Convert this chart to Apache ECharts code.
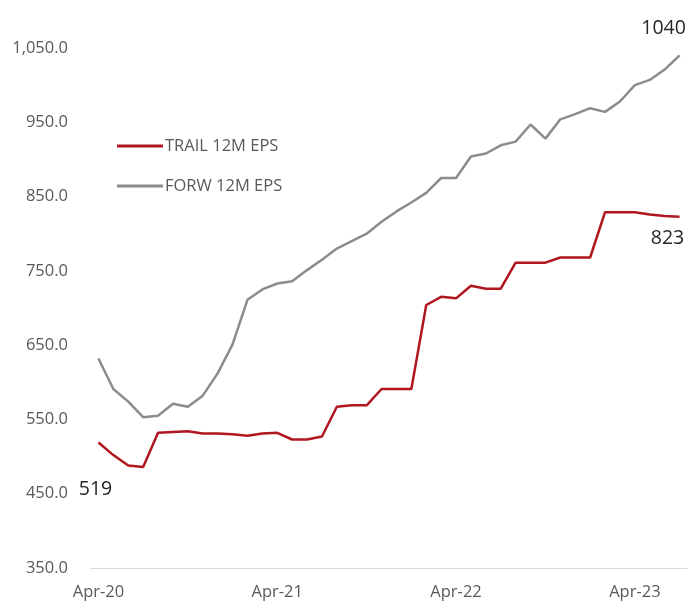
<!DOCTYPE html>
<html lang="en">
<head>
    <meta charset="UTF-8">
    <style>
        html, body { margin: 0; padding: 0; background: #ffffff; }
        #chart { width: 688px; height: 601px; }
    </style>
    <script src="https://cdn.jsdelivr.net/npm/echarts@6/dist/echarts.min.js"></script>
</head>
<body>
    <div id="chart"></div>
    <script>
        const months = ['Apr', 'May', 'Jun', 'Jul', 'Aug', 'Sep', 'Oct', 'Nov', 'Dec', 'Jan', 'Feb', 'Mar'];
        const categories = [];
        for (let i = 0; i < 40; i++) {
            const yr = 20 + Math.floor((i + 3) / 12);
            categories.push(months[i % 12] + '-' + yr);
        }

        const trailEps = [519, 502, 488, 486, 532, 533, 534, 531, 531, 530,
            528, 531, 532, 523, 523, 527, 567, 569, 569, 591,
            591, 591, 704, 715, 713, 730, 726, 726, 761, 761,
            761, 768, 768, 768, 829, 829, 829, 826, 824, 823];
        const forwEps = [632, 591, 574, 553, 555, 571, 567, 582, 612, 651,
            711, 725, 733, 736, 751, 765, 780, 790, 800, 816,
            830, 842, 855, 875, 875, 904, 908, 919, 924, 947,
            928, 954, 961, 969, 964, 978, 1000, 1007, 1021, 1040];

        const chart = echarts.init(document.getElementById('chart'));

        // only a few points carry a value label
        function withLabels(vals, marks) {
            return vals.map((v, i) => {
                if (marks[i]) {
                    return { value: v, label: Object.assign({ show: true, formatter: String(v) }, marks[i]) };
                }
                return v;
            });
        }

        const bigLabel = { fontSize: 19.5, color: '#262626', fontFamily: 'Open Sans' };

        chart.setOption({
            animation: false,
            textStyle: { fontFamily: 'Open Sans' },
            grid: { left: 91, right: 1, top: 48, bottom: 33 },
            legend: {
                orient: 'vertical',
                left: 117,
                top: 136,
                padding: 0,
                itemGap: 20,
                itemWidth: 46,
                itemHeight: 3,
                icon: 'rect',
                textStyle: { color: '#595959', fontSize: 16.5, lineHeight: 20, padding: [0, 0, 0, -3] },
                data: ['TRAIL 12M EPS', 'FORW 12M EPS']
            },
            xAxis: {
                type: 'category',
                data: categories,
                boundaryGap: true,
                axisLine: { lineStyle: { color: '#d9d9d9' } },
                axisTick: { interval: 11, length: 5, lineStyle: { color: '#d9d9d9' } },
                axisLabel: { interval: 11, color: '#595959', fontSize: 16.5, margin: 16 }
            },
            yAxis: {
                type: 'value',
                min: 350,
                max: 1050,
                interval: 100,
                splitLine: { show: false },
                axisLine: { show: false },
                axisTick: { show: false },
                axisLabel: {
                    color: '#595959',
                    fontSize: 16.5,
                    margin: 23,
                    formatter: v => v.toLocaleString('en-US', { minimumFractionDigits: 1, maximumFractionDigits: 1 })
                }
            },
            series: [
                {
                    name: 'TRAIL 12M EPS',
                    type: 'line',
                    showSymbol: true,
                    symbol: 'circle',
                    symbolSize: 0,
                    color: '#b0161e',
                    lineStyle: { width: 2.5 },
                    data: withLabels(trailEps, {
                        0: Object.assign({ position: 'bottom', distance: 37, offset: [-3, 0] }, bigLabel),
                        39: Object.assign({ position: 'bottom', distance: 12, offset: [-12, 0] }, bigLabel)
                    })
                },
                {
                    name: 'FORW 12M EPS',
                    type: 'line',
                    showSymbol: true,
                    symbol: 'circle',
                    symbolSize: 0,
                    color: '#8c8c8c',
                    lineStyle: { width: 2.5 },
                    data: withLabels(forwEps, {
                        39: Object.assign({ position: 'top', distance: 17, offset: [-16, 0] }, bigLabel)
                    })
                }
            ]
        });
    </script>
</body>
</html>
